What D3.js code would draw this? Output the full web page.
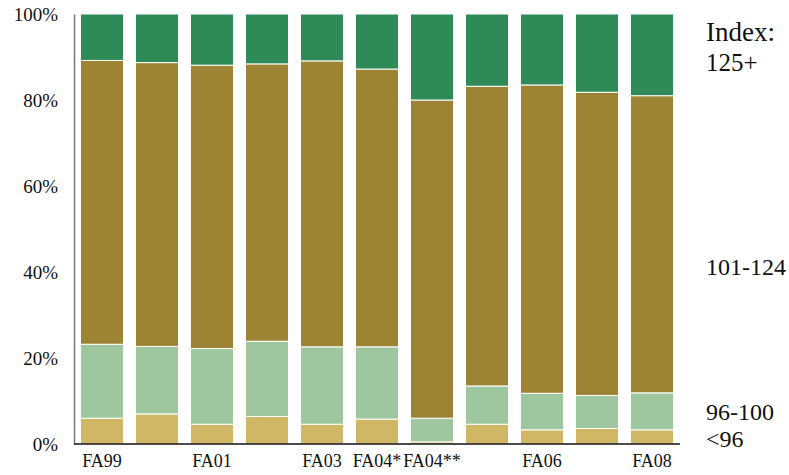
<!DOCTYPE html>
<html><head><meta charset="utf-8">
<script src="https://cdn.jsdelivr.net/npm/d3@7"></script>
<style>body{margin:0;background:#fff}svg{display:block}text{font-family:"Liberation Serif","DejaVu Serif",serif;fill:#111}</style>
</head><body>
<svg id="c" width="789" height="475"></svg>
<script>
const categories = ["FA99","FA00","FA01","FA02","FA03","FA04*","FA04**","FA05","FA06","FA07","FA08"];
const tickLabels = ["FA99","","FA01","","FA03","FA04*","FA04**","","FA06","","FA08"];
const seriesNames = ["<96","96-100","101-124","125+"];
const lt96   = [6.0, 7.0, 4.6, 6.4, 4.6, 5.8, 0.5, 4.6, 3.3, 3.6, 3.3];
const i96_100 = [17.2, 15.7, 17.6, 17.5, 18.0, 16.8, 5.5, 8.9, 8.5, 7.7, 8.6];
const i101_124 = [66.0, 66.0, 65.9, 64.5, 66.5, 64.6, 74.0, 69.7, 71.7, 70.5, 69.1];
const i125p = [10.8, 11.3, 11.9, 11.6, 10.9, 12.8, 20.0, 16.8, 16.5, 18.2, 19.0];
const yTicks = [0, 20, 40, 60, 80, 100];
const colors = ["#CFB766", "#9FC79F", "#9C8434", "#2E8A57"];

const svg = d3.select("#c");
const x = d3.scaleBand().domain(categories).range([74, 680]).paddingInner(0.218).paddingOuter(0.118);
const y = d3.scaleLinear().domain([0, 100]).range([444, 14]);

const rows = categories.map((c, i) => ({cat: c, "<96": lt96[i], "96-100": i96_100[i], "101-124": i101_124[i], "125+": i125p[i]}));
const stack = d3.stack().keys(seriesNames)(rows);

svg.append("g").selectAll("g").data(stack).join("g")
  .attr("fill", (d, i) => colors[i])
  .selectAll("rect").data(d => d).join("rect")
  .attr("x", d => x(d.data.cat))
  .attr("width", x.bandwidth())
  .attr("y", d => y(d[1]))
  .attr("height", d => y(d[0]) - y(d[1]))
  .attr("stroke", "#fff").attr("stroke-width", 1);

// y axis
const ya = svg.append("g").attr("transform", "translate(74,0)")
  .call(d3.axisLeft(y).tickValues(yTicks).tickSize(0).tickPadding(16).tickFormat(d => d + "%"));
ya.select(".domain").attr("stroke", "#777").attr("stroke-width", 1.5);
ya.selectAll("text").style("font-size", "19px").attr("font-family", null);

// x axis
const xa = svg.append("g").attr("transform", "translate(0,444)")
  .call(d3.axisBottom(x).tickSize(0).tickPadding(10).tickFormat((d, i) => tickLabels[i]));
xa.select(".domain").attr("stroke", "#111").attr("stroke-width", 1.5).attr("d", "M74,0H680");
xa.selectAll("text").style("font-size", "18px").attr("font-family", null);

// legend labels
const legend = [
  {t: "Index:", y: 41, s: 27},
  {t: "125+", y: 71, s: 25},
  {t: "101-124", y: 275, s: 24},
  {t: "96-100", y: 420, s: 24},
  {t: "<96", y: 447, s: 24}
];
svg.append("g").selectAll("text").data(legend).join("text")
  .attr("x", 706).attr("y", d => d.y).style("font-size", d => d.s + "px").text(d => d.t);
</script>
</body></html>
